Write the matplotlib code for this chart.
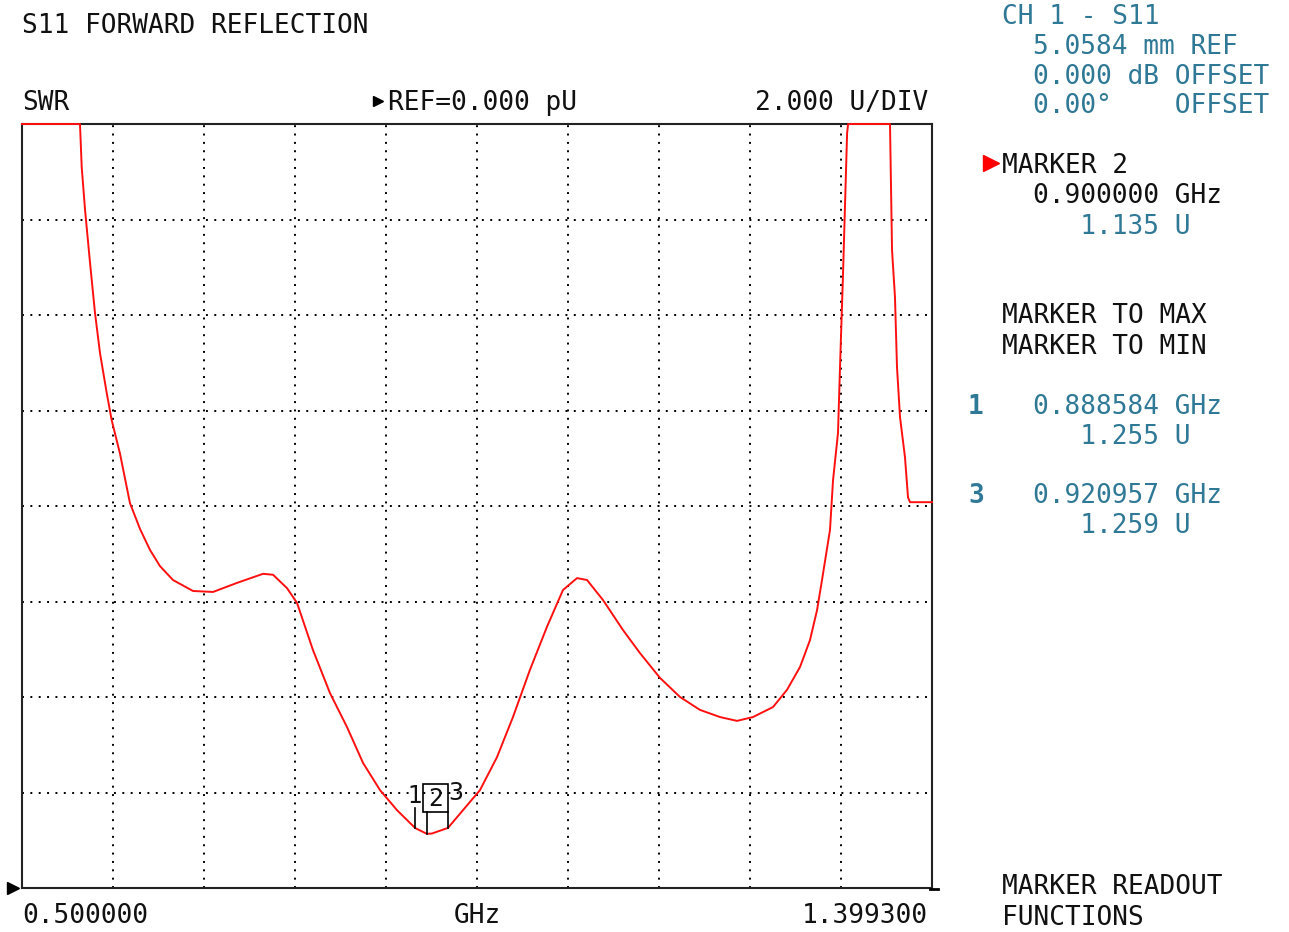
import matplotlib.pyplot as plt
from matplotlib.lines import Line2D
from matplotlib.patches import Rectangle

# trace (GHz, SWR units); 16 U = top of screen (clipped)
freq_ghz = [0.5000, 0.5573, 0.5590, 0.5623, 0.5672, 0.5721, 0.5771, 0.5837, 0.5886,
            0.5968, 0.6067, 0.6166, 0.6265, 0.6364, 0.6492, 0.6690, 0.6888, 0.7125,
            0.7382, 0.7481, 0.7619, 0.7718, 0.7777, 0.7876, 0.8044, 0.8212, 0.8370,
            0.8538, 0.8706, 0.8886, 0.9000, 0.9050, 0.9210, 0.9358, 0.9526, 0.9694,
            0.9852, 1.0020, 1.0188, 1.0346, 1.0485, 1.0584, 1.0742, 1.0940, 1.1107,
            1.1305, 1.1503, 1.1700, 1.1898, 1.2066, 1.2224, 1.2422, 1.2560, 1.2689,
            1.2787, 1.2857, 1.2906, 1.2985, 1.3015, 1.3064, 1.3084, 1.3114, 1.3154,
            1.3164, 1.3578, 1.3598, 1.3627, 1.3647, 1.3677, 1.3726, 1.3756, 1.3776,
            1.3993]
swr = [16.0, 16.0, 15.1, 14.2, 13.1, 12.05, 11.2, 10.37, 9.8,
       9.1, 8.06, 7.52, 7.08, 6.74, 6.45, 6.22, 6.2, 6.39,
       6.58, 6.56, 6.28, 5.97, 5.6, 4.98, 4.08, 3.37, 2.62,
       2.05, 1.63, 1.255, 1.135, 1.14, 1.259, 1.63, 2.05, 2.74,
       3.58, 4.57, 5.47, 6.24, 6.49, 6.45, 6.03, 5.40, 4.92,
       4.40, 4.00, 3.73, 3.58, 3.50, 3.58, 3.79, 4.15, 4.63,
       5.19, 5.82, 6.45, 7.50, 8.54, 9.53, 10.91, 12.88, 15.81,
       16.0, 16.0, 13.36, 12.38, 10.91, 9.86, 9.02, 8.18, 8.08,
       8.08]

marker_f = [0.888584, 0.900000, 0.920957]
marker_v = [1.255, 1.135, 1.259]

f_start, f_stop = 0.5, 1.3993
ref, per_div, n_ydiv = 0.0, 2.0, 8

teal = '#2f7896'
black = '#111111'
mono = 'DejaVu Sans Mono'
fs = 18.8

fig = plt.figure(figsize=(12.89, 9.32), dpi=100)
ax = fig.add_axes([22 / 1289, 44 / 932, 910 / 1289, 764 / 932])
ax.set_xlim(f_start, f_stop)
ax.set_ylim(ref, ref + per_div * n_ydiv)

# dotted graticule
step = (f_stop - f_start) / 10
for i in range(1, 10):
    ax.axvline(f_start + i * step, color='black', lw=1.4, ls=(0, (1, 3.3)), zorder=1)
for j in range(1, n_ydiv):
    ax.axhline(ref + j * per_div, color='black', lw=1.4, ls=(0, (1, 3.3)), zorder=1)

ax.plot(freq_ghz, swr, color='#ff1010', lw=1.4, clip_on=False, zorder=3)

# marker flags
ax.plot([marker_f[0]] * 2, [marker_v[0], 1.68], color='black', lw=1.2, zorder=4)
ax.plot([marker_f[1]] * 2, [marker_v[1], 1.59], color='black', lw=1.2, zorder=4)
ax.plot([marker_f[2]] * 2, [marker_v[2], 1.59], color='black', lw=1.2, zorder=4)
ax.add_patch(Rectangle((marker_f[1] - 0.0037, 1.59), marker_f[2] - marker_f[1] + 0.0037, 0.59,
                       fill=False, ec='black', lw=1.2, zorder=4))
ax.text(marker_f[0], 1.93, '1', ha='center', va='center', fontsize=17, color=black)
ax.text((marker_f[1] - 0.0037 + marker_f[2]) / 2, 1.86, '2', ha='center', va='center',
        fontsize=17, color=black)
ax.text(marker_f[2] + 0.008, 1.98, '3', ha='center', va='center', fontsize=17, color=black)

ax.set_xticks([])
ax.set_yticks([])
for s in ax.spines.values():
    s.set_linewidth(1.5)
    s.set_color('#222222')


def ftxt(x, y, s, color=black, ha='left', **kw):
    fig.text(x / 1289, 1 - (y + 3) / 932, s, color=color, ha=ha, va='center',
             family=mono, fontsize=fs, **kw)


ftxt(22, 23, 'S11 FORWARD REFLECTION')
ftxt(22, 100, 'SWR')
ftxt(388, 100, 'REF=0.000 pU')
ftxt(928, 100, '2.000 U/DIV', ha='right')
ftxt(22, 913, '0.500000')
ftxt(477, 913, 'GHz', ha='center')
ftxt(928, 913, '1.399300', ha='right')

ftxt(1002, 14, 'CH 1 - S11', teal)
ftxt(1033, 44, '5.0584 mm REF', teal)
ftxt(1033, 74, '0.000 dB OFFSET', teal)
ftxt(1033, 103, '0.00°    OFFSET', teal)
ftxt(1002, 163, 'MARKER 2')
ftxt(1033, 193, '0.900000 GHz')
ftxt(1033, 224, '   1.135 U', teal)
ftxt(1002, 313, 'MARKER TO MAX')
ftxt(1002, 344, 'MARKER TO MIN')
ftxt(968, 404, '1', teal, fontweight='bold')
ftxt(1033, 404, '0.888584 GHz', teal)
ftxt(1033, 434, '   1.255 U', teal)
ftxt(968, 493, '3', teal, fontweight='bold')
ftxt(1033, 493, '0.920957 GHz', teal)
ftxt(1033, 523, '   1.259 U', teal)
ftxt(1002, 884, 'MARKER READOUT')
ftxt(1002, 915, 'FUNCTIONS')

# small triangles and corner tick
fig.add_artist(Line2D([378 / 1289], [1 - 101 / 932], marker='>', ms=7, color='black', ls=''))
fig.add_artist(Line2D([991 / 1289], [1 - 163 / 932], marker='>', ms=11, color='red', ls=''))
fig.add_artist(Line2D([13 / 1289], [1 - 888 / 932], marker='>', ms=9, color='black', ls=''))
fig.add_artist(Line2D([930 / 1289, 938 / 1289], [1 - 889 / 932] * 2, color='black', lw=2))

fig.savefig('out.png', dpi=100, facecolor='white')
